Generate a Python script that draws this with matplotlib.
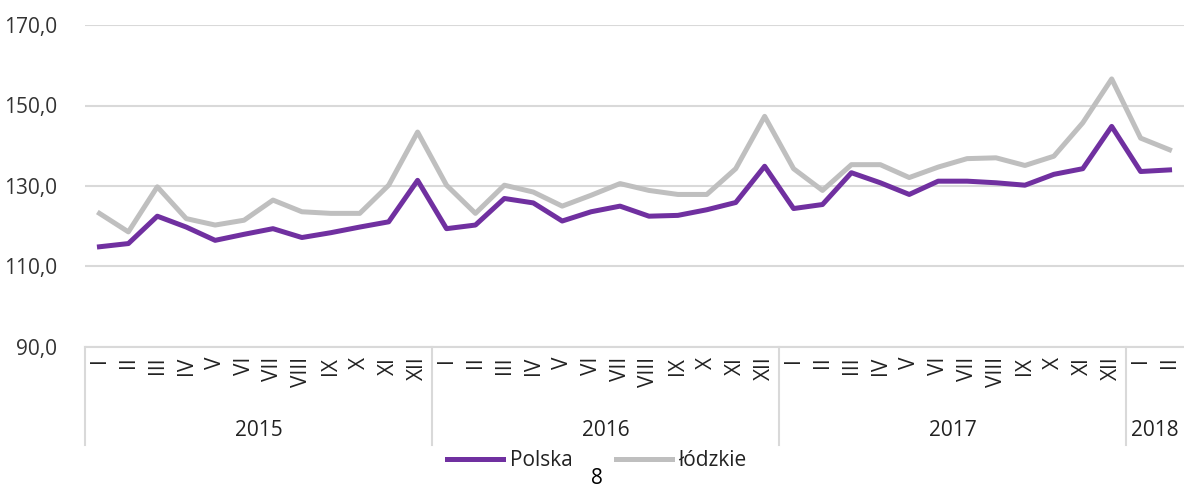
import matplotlib
matplotlib.use("Agg")
import matplotlib.pyplot as plt
from matplotlib.lines import Line2D
import matplotlib.transforms as mtransforms

plt.rcParams['font.family'] = ['Open Sans', 'DejaVu Sans']

months = ["I", "II", "III", "IV", "V", "VI", "VII", "VIII", "IX", "X", "XI", "XII"]
years = ["2015", "2016", "2017", "2018"]
months_per_year = [12, 12, 12, 2]
tick_labels = [m for n in months_per_year for m in months[:n]]

polska = [114.9, 115.7, 122.5, 119.8, 116.5, 118.0, 119.4, 117.2, 118.4, 119.8, 121.1, 131.4,
          119.4, 120.3, 126.9, 125.8, 121.3, 123.6, 125.0, 122.5, 122.7, 124.1, 125.9, 134.9,
          124.4, 125.4, 133.3, 130.8, 127.9, 131.2, 131.2, 130.8, 130.2, 132.9, 134.3, 144.8,
          133.6, 134.0]
lodzkie = [123.2, 118.6, 129.8, 121.9, 120.3, 121.5, 126.5, 123.6, 123.2, 123.2, 130.2, 143.4,
           130.2, 123.2, 130.2, 128.5, 125.0, 127.7, 130.6, 128.9, 127.9, 127.9, 134.3, 147.3,
           134.3, 128.9, 135.3, 135.3, 132.1, 134.7, 136.8, 137.0, 135.1, 137.4, 145.7, 156.6,
           141.9, 139.0]
series_names = ["Polska", "łódzkie"]
y_ticks = [90, 110, 130, 150, 170]

W, H = 1184, 491
FS = 15
fig = plt.figure(figsize=(W / 100, H / 100), dpi=100)
ax = fig.add_axes([85 / W, 1 - 347 / H, (W - 85) / W, (347 - 25) / H])

x = list(range(len(tick_labels)))
ax.plot(x, polska, color="#7030A0", lw=3.6, label=series_names[0], solid_joinstyle="round", zorder=3)
ax.plot(x, lodzkie, color="#BFBFBF", lw=3.6, label=series_names[1], solid_joinstyle="round", zorder=2)

ax.set_xlim(-0.5, len(tick_labels) - 0.5)
ax.set_ylim(90, 170)
ax.set_yticks(y_ticks)
ax.set_yticklabels([f"{v:.1f}".replace(".", ",") for v in y_ticks], fontsize=FS, color="#333333")
ax.yaxis.grid(True, color="#D9D9D9", lw=1.5)
ax.set_axisbelow(True)
for s in ["left", "right", "top"]:
    ax.spines[s].set_visible(False)
ax.spines["bottom"].set_color("#D9D9D9")
ax.spines["bottom"].set_linewidth(1.5)
ax.tick_params(axis="y", length=0, pad=20)
ax.set_xticks(x)
ax.set_xticklabels(tick_labels, rotation=90, fontsize=FS, color="#222222", va="top", ha="center")
ax.tick_params(axis="x", length=0, pad=7)

trans = mtransforms.blended_transform_factory(ax.transData, ax.transAxes)
bounds = [-0.5]
for n in months_per_year:
    bounds.append(bounds[-1] + n)
for b in bounds[:-1]:
    ax.add_line(Line2D([b, b], [0, -0.305], transform=trans, color="#D9D9D9", lw=1.5, clip_on=False))
for i, yr in enumerate(years):
    cx = (bounds[i] + bounds[i + 1]) / 2
    ax.text(cx, -0.258, yr, transform=trans, ha="center", va="center", fontsize=FS, color="#222222")

leg = fig.legend(loc="center", bbox_to_anchor=(597 / W, 1 - 461 / H), ncol=2, frameon=False,
                 fontsize=FS, handlelength=2.7, handletextpad=0.3, columnspacing=2.1)
for t in leg.get_texts():
    t.set_color("#222222")

fig.text(597 / W, 2 / H, "8", ha="center", va="bottom", fontsize=FS, color="#000000")

fig.savefig("out.png", dpi=100)
